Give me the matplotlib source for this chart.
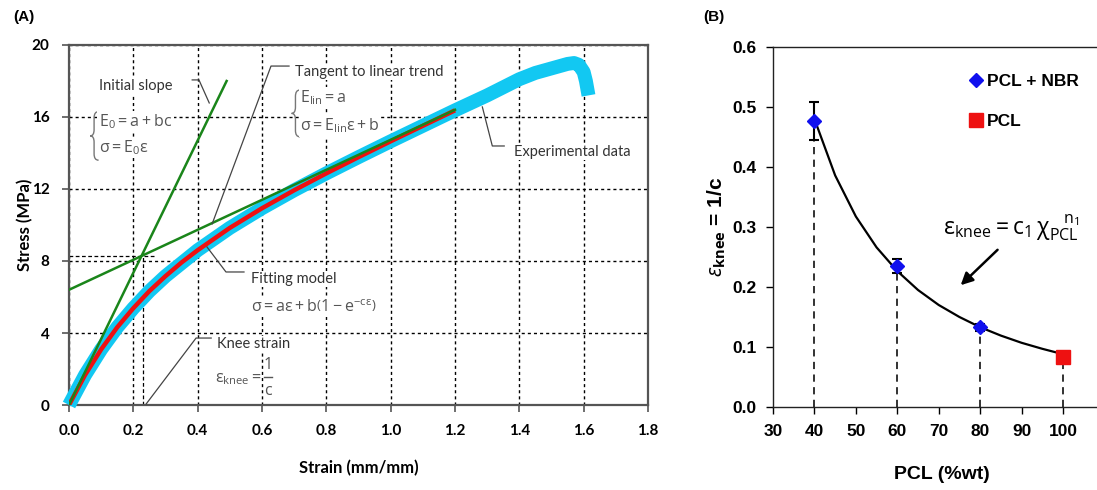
import matplotlib
matplotlib.use('Agg')
import matplotlib.pyplot as plt
from matplotlib.path import Path
from matplotlib.patches import PathPatch
from matplotlib.lines import Line2D

# ---------------- Panel A data ----------------
exp_strain = [0.0, 0.05, 0.1, 0.15, 0.2, 0.25, 0.3, 0.4, 0.5, 0.6, 0.7, 0.8,
              0.9, 1.0, 1.1, 1.2, 1.3, 1.4, 1.45, 1.5, 1.55, 1.57, 1.585,
              1.6, 1.607, 1.612, 1.615]
exp_stress = [0.0, 1.67, 3.09, 4.32, 5.38, 6.33, 7.16, 8.60, 9.84, 10.93,
              11.93, 12.87, 13.77, 14.65, 15.51, 16.37, 17.2, 18.1, 18.45,
              18.7, 18.95, 19.0, 18.9, 18.5, 18.0, 17.5, 17.2]
fit_strain = [0.0, 0.05, 0.1, 0.15, 0.2, 0.25, 0.3, 0.35, 0.4, 0.5, 0.6, 0.7,
              0.8, 0.9, 1.0, 1.1, 1.2]
fit_stress = [0.0, 1.67, 3.09, 4.32, 5.38, 6.33, 7.16, 7.92, 8.60, 9.84,
              10.93, 11.93, 12.87, 13.77, 14.65, 15.51, 16.37]
init_strain = [0.0, 0.49]
init_stress = [0.0, 18.0]
lin_strain = [0.0, 1.2]
lin_stress = [6.4, 16.4]
knee_strain = 0.23
knee_stress = 8.3

# ---------------- Panel B data ----------------
pcl_nbr_x = [40, 60, 80]
pcl_nbr_y = [0.476, 0.235, 0.133]
pcl_nbr_err_lo = [0.031, 0.012, 0.006]
pcl_nbr_err_hi = [0.032, 0.011, 0.006]
pcl_x = [100]
pcl_y = [0.083]
powfit_x = [40, 45, 50, 55, 60, 65, 70, 75, 80, 85, 90, 95, 100]
powfit_y = [0.480, 0.386, 0.3175, 0.266, 0.2265, 0.195, 0.170, 0.150,
            0.133, 0.119, 0.107, 0.097, 0.088]

plt.rcParams['mathtext.fontset'] = 'custom'
plt.rcParams['mathtext.rm'] = 'Open Sans'
plt.rcParams['mathtext.it'] = 'Open Sans:italic'
plt.rcParams['mathtext.bf'] = 'Open Sans:bold'

fig = plt.figure(figsize=(10.97, 4.9), dpi=100)
W, H = 1097, 490

# ======================= Panel A =======================
axA = fig.add_axes([69 / W, 1 - 405 / H, (648 - 69) / W, (405 - 45) / H])
axA.set_xlim(0, 1.8)
axA.set_ylim(0, 20)
axA.set_xticks([0.0, 0.2, 0.4, 0.6, 0.8, 1.0, 1.2, 1.4, 1.6, 1.8])
axA.set_yticks([0, 4, 8, 12, 16, 20])
axA.set_xticklabels([f'{v:.1f}' for v in axA.get_xticks()])
axA.set_axisbelow(True)
axA.grid(True, color='black', linestyle=(0, (2.2, 2.2)), linewidth=1.0)
for s in axA.spines.values():
    s.set_color('#555555')
    s.set_linewidth(1.6)
axA.tick_params(direction='out', length=5, width=1.2, color='#555555',
                labelsize=11, pad=9)
for lab in axA.get_xticklabels() + axA.get_yticklabels():
    lab.set_fontfamily('Lato')
    lab.set_fontweight('bold')
axA.set_xlabel('Strain (mm/mm)', fontsize=12, fontweight='bold',
               family='Lato')
axA.xaxis.set_label_coords(0.5, -(460 - 405) / 360)
axA.set_ylabel('Stress (MPa)', fontsize=12, fontweight='bold',
               family='Lato')
axA.yaxis.set_label_coords(-(69 - 33) / 579, 0.5)

axA.plot(exp_strain, exp_stress, color='#12c8f2', lw=10,
         solid_capstyle='butt', solid_joinstyle='round', zorder=3,
         clip_on=False)
axA.plot(fit_strain, fit_stress, color='#ee1111', lw=3.2, zorder=4,
         solid_capstyle='butt')
axA.plot(init_strain, init_stress, color='#1a851a', lw=1.8, zorder=5)
axA.plot(lin_strain, lin_stress, color='#1a851a', lw=1.8, zorder=5)

# knee strain guide lines
axA.plot([knee_strain, knee_strain], [0, knee_stress + 0.2], color='black',
         lw=0.9, ls=(0, (3, 2)), zorder=2)
axA.plot([0, knee_strain + 0.04], [knee_stress, knee_stress], color='black',
         lw=0.9, ls=(0, (3, 2)), zorder=2)

txt_dark = '#333333'
txt_grey = '#555555'
box = dict(facecolor='white', edgecolor='none', pad=1.0)
lead = dict(color='#444444', lw=0.9, zorder=6)


def brace(ax, xl, xm, xr, y0, y1, d):
    ym = 0.5 * (y0 + y1)
    verts = [(xr, y1), (xm, y1), (xm, y1 - d),
             (xm, ym + d),
             (xm, ym), (xl, ym),
             (xm, ym), (xm, ym - d),
             (xm, y0 + d),
             (xm, y0), (xr, y0)]
    codes = [Path.MOVETO, Path.CURVE3, Path.CURVE3,
             Path.LINETO,
             Path.CURVE3, Path.CURVE3,
             Path.CURVE3, Path.CURVE3,
             Path.LINETO,
             Path.CURVE3, Path.CURVE3]
    ax.add_patch(PathPatch(Path(verts, codes), facecolor='none',
                           edgecolor='#777777', lw=1.0, zorder=6))


FS = 10.5
FM = 11.5
# Initial slope
axA.text(0.093, 17.7, 'Initial slope', fontsize=FS, family='Lato',
         color=txt_dark, va='center', ha='left', bbox=box, zorder=6)
axA.plot([0.383, 0.404, 0.436], [18.06, 18.06, 16.78], **lead)
brace(axA, 0.066, 0.078, 0.092, 13.6, 16.3, 0.35)
axA.text(0.093, 15.75, r'$\mathrm{E_0 = a + bc}$', fontsize=FM,
         color=txt_grey, va='center', ha='left', bbox=box, zorder=6)
axA.text(0.093, 14.3, r'$\mathrm{\sigma = E_0\varepsilon}$', fontsize=FM,
         color=txt_grey, va='center', ha='left', bbox=box, zorder=6)

# Tangent to linear trend
axA.text(0.703, 18.5, 'Tangent to linear trend', fontsize=FS,
         family='Lato', color=txt_dark, va='center', ha='left', bbox=box,
         zorder=6)
axA.plot([0.684, 0.628, 0.445], [18.83, 18.83, 10.06], **lead)
brace(axA, 0.692, 0.704, 0.718, 14.9, 17.5, 0.35)
axA.text(0.718, 17.05, r'$\mathrm{E_{lin} = a}$', fontsize=FM,
         color=txt_grey, va='center', ha='left', bbox=box, zorder=6)
axA.text(0.718, 15.5, r'$\mathrm{\sigma = E_{lin}\varepsilon + b}$',
         fontsize=FM, color=txt_grey, va='center', ha='left', bbox=box,
         zorder=6)

# Experimental data
axA.text(1.384, 14.06, 'Experimental data', fontsize=FS, family='Lato',
         color=txt_dark, va='center', ha='left', bbox=box, zorder=6)
axA.plot([1.353, 1.316, 1.285], [14.39, 14.39, 16.56], **lead)

# Fitting model
axA.text(0.566, 7.0, 'Fitting model', fontsize=FS, family='Lato',
         color=txt_dark, va='center', ha='left', bbox=box, zorder=6)
axA.plot([0.544, 0.488, 0.429], [7.39, 7.39, 8.78], **lead)
axA.text(0.566, 5.45,
         r'$\mathrm{\sigma = a\varepsilon + b\left(1 - e^{-c\varepsilon}\right)}$',
         fontsize=FM, color=txt_grey, va='center', ha='left', bbox=box,
         zorder=6)

# Knee strain
axA.text(0.46, 3.39, 'Knee strain', fontsize=FS, family='Lato',
         color=txt_dark, va='center', ha='left', bbox=box, zorder=6)
axA.plot([0.442, 0.395, 0.24], [3.72, 3.72, 0.06], **lead)
axA.text(0.455, 1.42, r'$\mathrm{\varepsilon_{knee}}$',
         fontsize=FM, color=txt_grey, va='center', ha='left', zorder=6)
axA.text(0.58, 1.56, '=', fontsize=FM, family='Open Sans',
         color=txt_grey, va='center_baseline', ha='center', zorder=6)
axA.text(0.618, 2.25, '1', fontsize=FM, family='Open Sans',
         color=txt_grey, va='center', ha='center', zorder=6)
axA.plot([0.605, 0.631], [1.56, 1.56], color=txt_grey, lw=1.0, zorder=6)
axA.text(0.618, 0.78, 'c', fontsize=FM, family='Open Sans',
         color=txt_grey, va='center', ha='center', zorder=6)

fig.text(24 / W, 1 - 17 / H, '(A)', fontsize=11, fontweight='bold',
         family='Liberation Sans', ha='center', va='center')

# ======================= Panel B =======================
axB = fig.add_axes([773 / W, 1 - 407 / H, (W - 773) / W, 360 / H])
axB.set_xlim(30, 108.2)
axB.set_ylim(0, 0.6)
axB.set_xticks([30, 40, 50, 60, 70, 80, 90, 100])
axB.set_yticks([0.0, 0.1, 0.2, 0.3, 0.4, 0.5, 0.6])
axB.set_yticklabels([f'{v:.1f}' for v in axB.get_yticks()])
axB.spines['right'].set_visible(False)
for s in ['left', 'bottom', 'top']:
    axB.spines[s].set_color('#222222')
    axB.spines[s].set_linewidth(1.0)
axB.tick_params(direction='out', length=5, width=1.0, labelsize=12.5,
                pad=7)
for lab in axB.get_xticklabels() + axB.get_yticklabels():
    lab.set_fontfamily('Liberation Sans')
    lab.set_fontweight('bold')

axB.vlines(pcl_nbr_x + pcl_x, 0, pcl_nbr_y + pcl_y, colors='#222222',
           linestyles=(0, (4, 3)), lw=1.3, zorder=1)
axB.plot(powfit_x, powfit_y, color='black', lw=1.6, zorder=2)
axB.errorbar(pcl_nbr_x, pcl_nbr_y, yerr=[pcl_nbr_err_lo, pcl_nbr_err_hi],
             fmt='none', ecolor='black', elinewidth=1.5, capsize=3.5,
             capthick=1.5, zorder=3)
axB.plot(pcl_nbr_x, pcl_nbr_y, ls='none', marker='D', ms=7.5,
         color='#1010ee', zorder=4, clip_on=False)
axB.plot(pcl_x, pcl_y, ls='none', marker='s', ms=10, color='#ee1111',
         zorder=4, clip_on=False)

handles = [Line2D([], [], ls='none', marker='D', ms=7.5, color='#1010ee'),
           Line2D([], [], ls='none', marker='s', ms=10, color='#ee1111')]
leg = axB.legend(handles, ['PCL + NBR', 'PCL'], loc='upper left',
                 bbox_to_anchor=(0.56, 0.97), frameon=False,
                 handlelength=0.7, handletextpad=0.25, labelspacing=1.45,
                 prop={'family': 'Liberation Sans', 'weight': 'bold',
                       'size': 12.5})

axB.text(87.4, 0.298,
         r'$\mathrm{\varepsilon_{knee} = c_1\,\chi_{PCL}^{\ \ \ n_1}}$',
         fontsize=16.5, color='black', ha='center', va='center')
axB.annotate('', xy=(75.3, 0.203), xytext=(84.2, 0.262),
             arrowprops=dict(arrowstyle='-|>', color='black', lw=1.8,
                             mutation_scale=18, shrinkA=0, shrinkB=0))

axB.set_xlabel('PCL (%wt)', fontsize=14, fontweight='bold',
               family='Liberation Sans')
axB.xaxis.set_label_coords((942 - 773) / (W - 773), -(466 - 407) / 360)
axB.set_ylabel(r'$\varepsilon_{\mathbf{knee}}$' + ' = 1/c', fontsize=15,
               fontweight='bold', family='Liberation Sans')
axB.yaxis.set_label_coords(-(773 - 728) / (W - 773), 0.5)

fig.text(714 / W, 1 - 17 / H, '(B)', fontsize=11, fontweight='bold',
         family='Liberation Sans', ha='center', va='center')

fig.savefig('out.png', dpi=100)
